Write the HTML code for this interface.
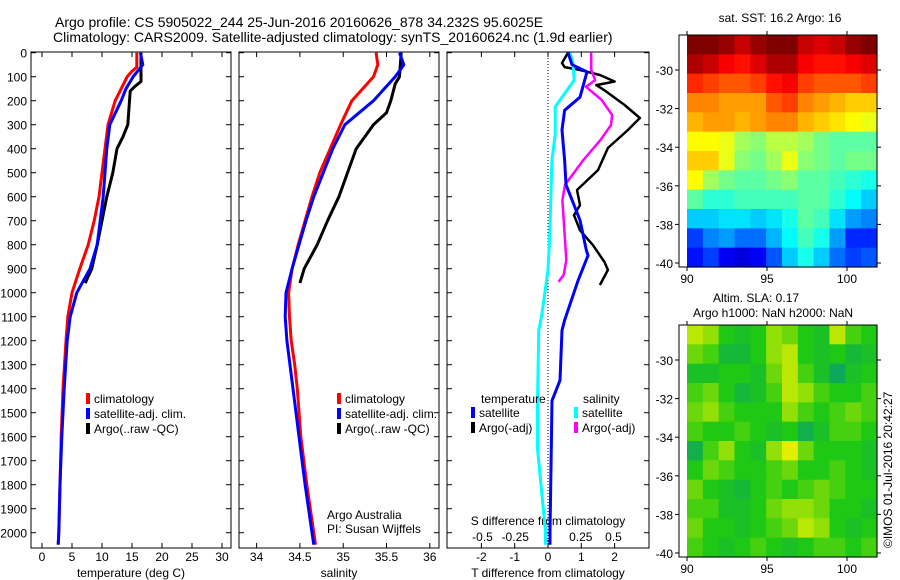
<!DOCTYPE html>
<html><head><meta charset="utf-8">
<style>
html,body{margin:0;padding:0;background:#fff;}
svg{display:block;font-family:"Liberation Sans",sans-serif;}
text{fill:#000;}
</style></head>
<body>
<svg id="c" width="900" height="580" viewBox="0 0 900 580" xmlns="http://www.w3.org/2000/svg">
<text x="55" y="27" font-size="14">Argo profile: CS 5905022_244 25-Jun-2016 20160626_878 34.232S 95.6025E</text>
<text x="53" y="42" font-size="14">Climatology: CARS2009. Satellite-adjusted climatology: synTS_20160624.nc (1.9d earlier)</text>
<g id="g"></g>
<text x="780" y="22" font-size="12" text-anchor="middle">sat. SST: 16.2 Argo: 16</text>
<text x="713" y="302" font-size="12">Altim. SLA: 0.17</text>
<text x="693" y="317" font-size="12">Argo h1000: NaN h2000: NaN</text>
<text transform="translate(892,548) rotate(-90)" font-size="12">©IMOS 01-Jul-2016 20:42:27</text>
</svg>
<script>
// ---- data ----
const tClimP=[0,60,80,100,200,300,400,500,600,700,800,900,1000,1100,1200,1400,1600,1800,2000,2050];
const tClimV=[15.8,15.8,14.9,14.2,12.2,11,10.5,10,9.5,8.7,7.7,6.3,5,4.3,4,3.5,3.2,3,2.8,2.7];
const tSatP=[0,50,100,150,200,300,400,500,600,700,800,900,1000,1100,1200,1400,1600,1800,2000,2050];
const tSatV=[16.4,16.8,15.2,14,13.2,11.3,10.8,10.5,10.2,9.7,9.2,8,5.8,4.7,4.2,3.7,3.3,3,2.8,2.7];
const tArgoP=[0,50,120,140,160,300,350,400,500,600,700,800,900,960];
const tArgoV=[16.5,16.5,16.5,15.5,14.7,14.3,13.5,12.5,11.8,10.8,10,9.2,8.3,7.2];
const sClimP=[0,50,100,200,300,400,500,600,700,800,900,1000,1100,1200,1300,1400,1600,1800,2000,2050];
const sClimV=[35.38,35.4,35.35,35.1,34.97,34.85,34.73,34.64,34.56,34.48,34.41,34.37,34.38,34.4,34.44,34.47,34.51,34.58,34.66,34.68];
const sSatP=[0,50,100,200,300,400,500,600,700,800,900,1000,1100,1200,1400,1600,1800,2000,2050];
const sSatV=[35.65,35.7,35.6,35.35,35.02,34.88,34.77,34.66,34.57,34.49,34.41,34.34,34.33,34.35,34.42,34.49,34.56,34.64,34.66];
const sArgoP=[0,100,130,200,250,300,400,500,600,700,800,900,960];
const sArgoV=[35.67,35.65,35.6,35.55,35.5,35.35,35.15,35.05,34.95,34.82,34.7,34.55,34.5];
const dTSatP=[0,50,80,185,240,322,447,550,698,822,845,950,1115,1157,1365,1450,2000,2050];
const dTSatV=[0.6,0.72,1.17,0.96,0.5,0.42,0.5,0.54,0.96,1.15,1.2,0.9,0.5,0.42,0.36,0.12,0.06,0.06];
const dTArgoP=[0,43,60,72,93,120,135,155,218,272,322,397,489,572,635,677,740,802,873,905,968];
const dTArgoV=[0.6,0.42,0.5,0.96,1.56,2.0,1.45,1.68,2.3,2.76,2.4,1.8,1.5,0.87,0.96,0.78,0.96,1.35,1.7,1.8,1.56];
const dSSatP=[0,43,114,225,343,447,530,740,905,1100,1155,1450,1650,1990,2050];
const dSSatV=[0.167,0.19,0.2,0.055,0.055,0.03,0.025,0.015,0,-0.05,-0.07,-0.08,-0.08,-0.02,-0.02];
const dSArgoP=[0,72,114,142,197,260,302,364,447,551,614,697,781,864,926,955];
const dSArgoV=[0.33,0.33,0.36,0.29,0.41,0.49,0.48,0.4,0.27,0.13,0.11,0.12,0.13,0.14,0.12,0.08];
const sstGrid=[
[16.9,16.9,16.8,16.6,16.8,16.9,16.9,16.6,16.5,16.6,16.8,16.9],
[16.7,16.6,16.4,16.3,16.5,16.7,16.7,16.4,16.3,16.3,16.4,16.5],
[16.2,16.1,16.0,16.0,16.1,16.3,16.4,16.1,16.0,16.0,16.0,16.1],
[15.8,15.8,15.7,15.7,15.7,16.0,16.1,15.8,15.7,15.6,15.5,15.5],
[15.6,15.7,15.7,15.6,15.7,15.8,15.8,15.6,15.5,15.4,15.3,15.2],
[15.3,15.3,15.2,14.9,14.8,15.0,15.0,14.9,14.7,14.6,14.6,14.6],
[15.5,15.5,15.2,14.8,14.7,14.9,15.2,14.8,14.7,14.6,14.7,14.7],
[15.3,14.9,14.7,14.6,14.6,14.7,14.8,14.6,14.6,14.5,14.4,14.3],
[14.6,14.4,14.4,14.5,14.5,14.5,14.5,14.6,14.6,14.4,14.2,14.0],
[14.0,14.0,14.1,14.1,14.0,14.1,14.3,14.6,14.5,14.1,13.8,13.7],
[13.4,13.7,13.8,13.6,13.6,13.9,14.2,14.5,14.3,13.8,13.3,13.3],
[13.2,13.4,13.1,13.0,13.1,13.5,14.0,14.3,14.0,13.6,13.4,13.5]];
const slaGrid=[
[0.9,0.8,0.5,0.4,0.5,0.8,0.7,0.5,0.4,0.9,0.6,0.5],
[0.7,0.6,0.3,0.3,0.5,0.8,0.9,0.5,0.4,0.5,0.3,0.4],
[0.4,0.4,0.5,0.5,0.4,0.7,0.9,0.6,0.4,0.1,0.4,0.5],
[0.6,0.7,0.5,0.3,0.4,0.6,0.9,0.8,0.6,0.5,0.5,0.6],
[0.7,0.8,0.6,0.5,0.5,0.5,0.8,0.6,0.5,0.6,0.7,0.6],
[0.6,0.5,0.5,0.6,0.5,0.4,0.5,0.2,0.4,0.6,0.6,0.5],
[0.2,0.6,0.8,0.5,0.4,0.8,1.0,0.7,0.5,0.5,0.5,0.4],
[0.5,0.7,0.6,0.5,0.5,0.6,0.7,0.5,0.5,0.6,0.5,0.4],
[0.7,0.5,0.4,0.3,0.5,0.6,0.5,0.6,0.7,0.6,0.5,0.5],
[0.6,0.6,0.4,0.4,0.5,0.7,0.8,0.8,0.7,0.5,0.5,0.4],
[0.7,0.5,0.5,0.4,0.5,0.6,0.7,0.9,0.8,0.5,0.4,0.5],
[0.6,0.5,0.4,0.5,0.6,0.5,0.4,0.5,0.6,0.6,0.5,0.6]];
const depthTicks=[0,100,200,300,400,500,600,700,800,900,1000,1100,1200,1300,1400,1500,1600,1700,1800,1900,2000];
const tTicks=[0,5,10,15,20,25,30];
const sTicks=[34,34.5,35,35.5,36];
const dTTicks=[-2,-1,0,1,2];
const dSTicks=[-0.5,-0.25,0,0.25,0.5];
const dSTickLabels=["-0.5","-0.25","0","0.25","0.5"];
const lonTicks=[90,95,100];
const latTicks=[-30,-32,-34,-36,-38,-40];

// ---- scales ----
const NS='http://www.w3.org/2000/svg';
const G=document.getElementById('g');
function el(tag,a,parent){const e=document.createElementNS(NS,tag);for(const k in a)e.setAttribute(k,a[k]);(parent||G).appendChild(e);return e;}
const yP=p=>52.7+0.24*p;
const xT=t=>42+6*t;
const xS=s=>256.6+86.6*(s-34);
const xDT=d=>548+33.3*d;
const xDS=d=>548+131*d;
const PT=52,PB=548;

function frame(x0,x1,name){
  const r=el('rect',{x:x0,y:PT,width:x1-x0,height:PB-PT,fill:'none',stroke:'#000','stroke-width':1});
  
  
}
function yTicks(x0,x1,labels){
  depthTicks.forEach(p=>{const y=yP(p);
    el('line',{x1:x0,y1:y,x2:x0+5,y2:y,stroke:'#000'});
    el('line',{x1:x1,y1:y,x2:x1-5,y2:y,stroke:'#000'});
    if(labels){const t=el('text',{x:27,y:y+5,'font-size':12,'text-anchor':'end'});t.textContent=p;
      
      }
  });
}
function xTicks(vals,fx,labs,y,name){
  vals.forEach((v,i)=>{const x=fx(v);
    el('line',{x1:x,y1:PB,x2:x,y2:PB-5,stroke:'#000'});
    el('line',{x1:x,y1:PT,x2:x,y2:PT+5,stroke:'#000'});
    const t=el('text',{x:x,y:y,'font-size':12,'text-anchor':'middle'});t.textContent=labs?labs[i]:v;
    
    
  });
}
function line(P,V,fx,col,name,w){
  const pts=P.map((p,i)=>fx(V[i]).toFixed(1)+','+yP(p).toFixed(1)).join(' ');
  const l=el('polyline',{points:pts,fill:'none',stroke:col,'stroke-width':w||3,'stroke-linejoin':'round'});
  
  
}
function txt(x,y,s,name,anchor){const t=el('text',{x:x,y:y,'font-size':12,'text-anchor':anchor||'start'});t.textContent=s;
  
  }
function legend(x,y,col,s,name){
  const r=el('rect',{x:x,y:y-10,width:4,height:11,fill:col});
  
  
  txt(x+8,y,s,name);
}

// panel 1 temperature
frame(31,231,'temperature-panel');
yTicks(31,231,true);
xTicks(tTicks,xT,null,561,'temperature-tick-label');
txt(131,577,'temperature (deg C)','temperature-axis-title','middle');
line(tArgoP,tArgoV,xT,'#000','temp-argo-line');
line(tClimP,tClimV,xT,'#f00','temp-climatology-line');
line(tSatP,tSatV,xT,'#00f','temp-satellite-line');
legend(86,403,'#f00','climatology','temp-legend-climatology');
legend(86,418,'#00f','satellite-adj. clim.','temp-legend-satellite');
legend(86,433,'#000','Argo(..raw -QC)','temp-legend-argo');

// panel 2 salinity
frame(239,439,'salinity-panel');
yTicks(239,439,false);
xTicks(sTicks,xS,null,561,'salinity-tick-label');
txt(339,577,'salinity','salinity-axis-title','middle');
line(sArgoP,sArgoV,xS,'#000','sal-argo-line');
line(sClimP,sClimV,xS,'#f00','sal-climatology-line');
line(sSatP,sSatV,xS,'#00f','sal-satellite-line');
legend(337,403,'#f00','climatology','sal-legend-climatology');
legend(337,418,'#00f','satellite-adj. clim.','sal-legend-satellite');
legend(337,433,'#000','Argo(..raw -QC)','sal-legend-argo');
txt(327,519,'Argo Australia','credit-argo-australia');
txt(327,533,'PI: Susan Wijffels','credit-pi');

// panel 3 differences
frame(447,649,'difference-panel');
yTicks(447,649,false);
xTicks(dTTicks,xDT,null,561,'t-diff-tick-label');
dSTicks.forEach((v,i)=>{const t=el('text',{x:xDS(v),y:541,'font-size':12,'text-anchor':'middle'});t.textContent=dSTickLabels[i];
  
  });
txt(548,525,'S difference from climatology','s-diff-axis-title','middle');
txt(548,577,'T difference from climatology','t-diff-axis-title','middle');
el('line',{x1:xDT(0),y1:PT,x2:xDT(0),y2:PB,stroke:'#000','stroke-dasharray':'1,2'});
line(dTArgoP,dTArgoV,xDT,'#000','tdiff-argo-line',2.5);
line(dSArgoP,dSArgoV,xDS,'#f0f','sdiff-argo-line',2.5);
line(dSSatP,dSSatV,xDS,'#0ff','sdiff-satellite-line');
line(dTSatP,dTSatV,xDT,'#00f','tdiff-satellite-line');
txt(481,403,'temperature','legend-temperature-heading');
txt(583,403,'salinity','legend-salinity-heading');
legend(471,417,'#00f','satellite','tdiff-legend-satellite');
legend(471,432,'#000','Argo(-adj)','tdiff-legend-argo');
legend(574,417,'#0ff','satellite','sdiff-legend-satellite');
legend(574,432,'#f0f','Argo(-adj)','sdiff-legend-argo');

// maps
function jet(v){ // v in 0..1
  v=Math.min(Math.max(v,0),1);
  const r=Math.min(Math.max(Math.min(4*v-1.5,-4*v+4.5),0),1);
  const g=Math.min(Math.max(Math.min(4*v-0.5,-4*v+3.5),0),1);
  const b=Math.min(Math.max(Math.min(4*v+0.5,-4*v+2.5),0),1);
  return `rgb(${Math.round(r*255)},${Math.round(g*255)},${Math.round(b*255)})`;
}
function slaCol(v){ // teal -> green -> yellow
  const a=[[10,160,110],[30,200,20],[225,240,0]];
  let i=v<0.5?0:1,f=v<0.5?v/0.5:(v-0.5)/0.5;
  const c=a[i].map((x,k)=>Math.round(x+(a[i+1][k]-x)*f));
  return `rgb(${c[0]},${c[1]},${c[2]})`;
}
function map(top,grid,colf,name){
  const fx=lon=>687+16*(lon-90);
  const fy=lat=>top+35+19.3*(-30-lat);
  const x0=687,x1=877,y0=top,y1=top+232;
  const nr=grid.length,nc=grid[0].length;
  const cw=(x1-x0)/nc,ch=(y1-y0)/nr;
  grid.forEach((row,i)=>row.forEach((v,j)=>{
    const r=el('rect',{x:(x0+j*cw).toFixed(2),y:(y0+i*ch).toFixed(2),width:(cw+0.6).toFixed(2),height:(ch+0.6).toFixed(2),fill:colf(v)});
    
    
  }));
  const f=el('rect',{x:679,y:y0,width:198,height:232,fill:'none',stroke:'#000'});
  
  
  lonTicks.forEach(l=>{const x=fx(l);
    el('line',{x1:x,y1:y0-4,x2:x,y2:y0,stroke:'#000'});el('line',{x1:x,y1:y1,x2:x,y2:y1+4,stroke:'#000'});
    txt(x,y1+16,String(l),name+'-lon-label','middle');});
  latTicks.forEach(l=>{const y=fy(l);
    el('line',{x1:675,y1:y,x2:679,y2:y,stroke:'#000'});el('line',{x1:877,y1:y,x2:881,y2:y,stroke:'#000'});
    txt(673,y+5,String(l),name+'-lat-label','end');});
}
map(35,sstGrid,v=>jet((v-12.6)/4.3),'sst-map');
map(325,slaGrid,slaCol,'sla-map');
</script>
</body></html>
